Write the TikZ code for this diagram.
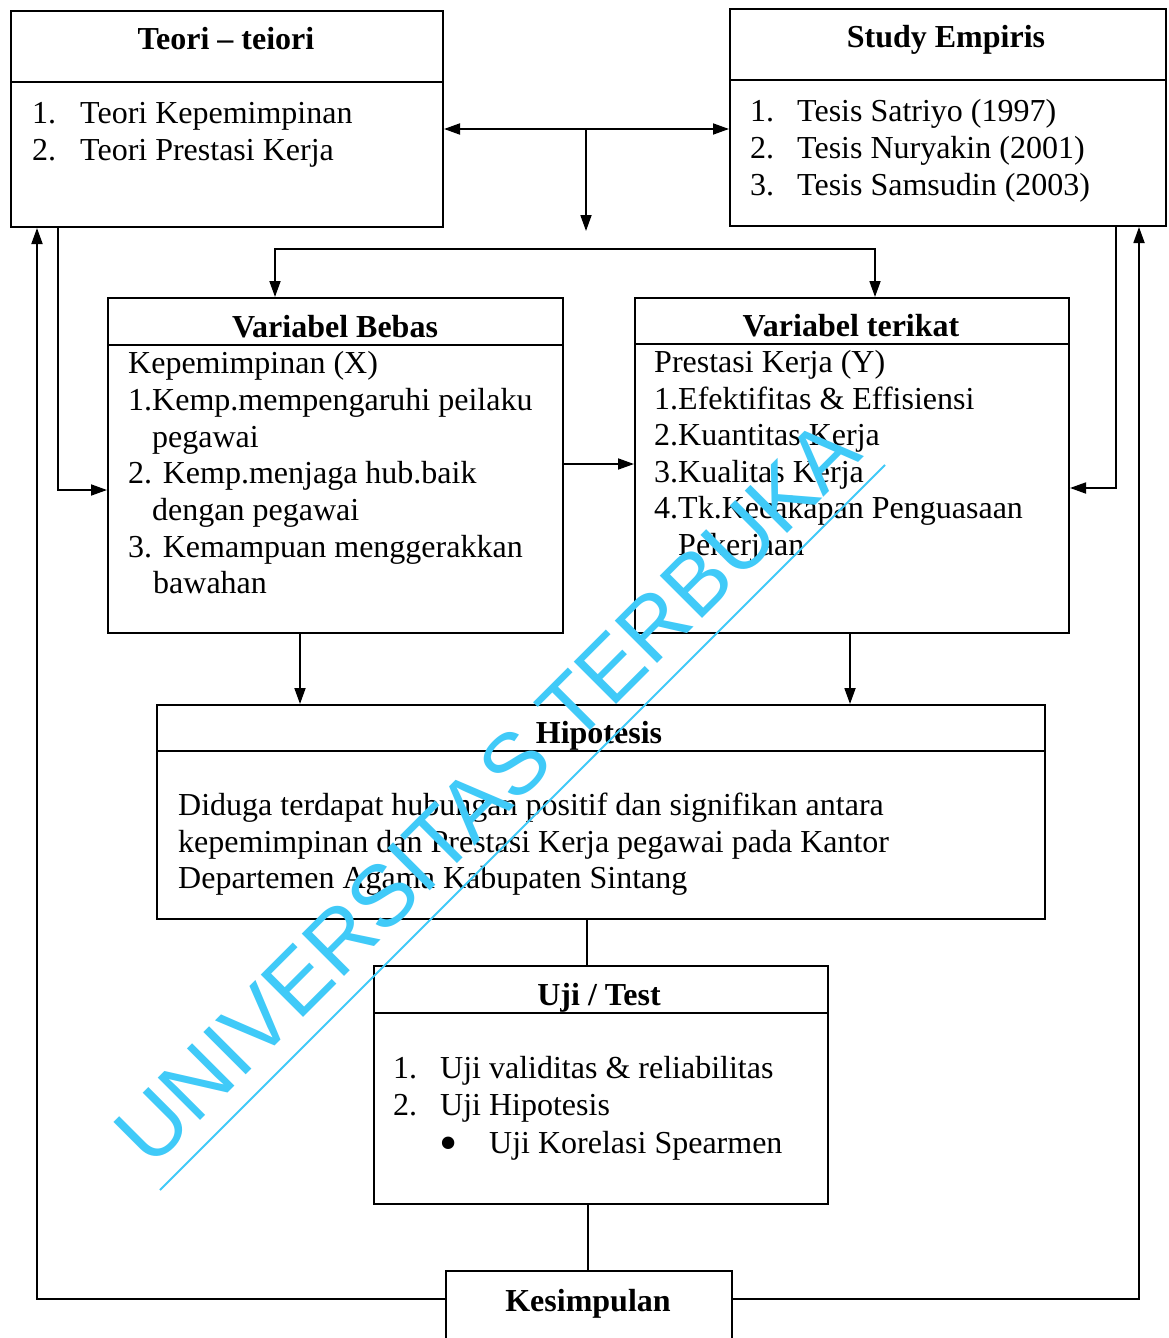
\documentclass[tikz,border=0pt]{standalone}
\usepackage{fontspec}
\setmainfont{Liberation Serif}
\newfontfamily\wmfont{Liberation Sans}
\usetikzlibrary{arrows.meta,calc}
\definecolor{wmcyan}{RGB}{64,202,248}
\begin{document}
\begin{tikzpicture}[x=1pt,y=-1pt,
  box/.style={draw,line width=2pt,rectangle,inner sep=0pt,anchor=north west},
  conn/.style={line width=1.8pt},
  arr/.style={conn,-{Triangle[length=16pt,width=11pt]}},
  arrb/.style={conn,{Triangle[length=16pt,width=11pt]}-{Triangle[length=16pt,width=11pt]}},
  txt/.style={anchor=base west,inner sep=0pt,font=\fontsize{32}{37}\selectfont},
  hdr/.style={anchor=base,inner sep=0pt,font=\fontsize{32}{37}\selectfont\bfseries},
  wm/.style={wmcyan,line width=2pt}]
\useasboundingbox (0,0) rectangle (1168,1338);
\fill[white] (0,0) rectangle (1168,1338);

% boxes
\node[box,minimum width=432pt,minimum height=216pt] (teori) at (10,10) {};
\node[box,minimum width=436pt,minimum height=217pt] (study) at (729,8) {};
\node[box,minimum width=455pt,minimum height=335pt] (bebas) at (107,297) {};
\node[box,minimum width=434pt,minimum height=335pt] (terikat) at (634,297) {};
\node[box,minimum width=888pt,minimum height=214pt] (hipo) at (156,704) {};
\node[box,minimum width=454pt,minimum height=238pt] (uji) at (373,965) {};
\node[box,minimum width=286pt,minimum height=100pt] (kes) at (445,1270) {};

% header dividers
\draw[line width=2pt] ($(teori.north west)+(0,72)$) -- ($(teori.north east)+(0,72)$);
\draw[line width=2pt] ($(study.north west)+(0,72)$) -- ($(study.north east)+(0,72)$);
\draw[line width=2pt] ($(bebas.north west)+(0,48)$) -- ($(bebas.north east)+(0,48)$);
\draw[line width=2pt] ($(terikat.north west)+(0,47)$) -- ($(terikat.north east)+(0,47)$);
\draw[line width=2pt] ($(hipo.north west)+(0,47)$) -- ($(hipo.north east)+(0,47)$);
\draw[line width=2pt] ($(uji.north west)+(0,48)$) -- ($(uji.north east)+(0,48)$);

% connectors
\coordinate (topmid) at (586,129);
\coordinate (topdown) at (586,231);
\draw[arrb] (teori.east |- topmid) -- (study.west |- topmid);
\draw[arr] (topmid) -- (topdown);
\draw[arrb] ($(bebas.north west)+(168,0)$) -- ++(0,-48) -| ($(terikat.north west)+(241,0)$);
\draw[arr] ($(teori.south west)+(48,0)$) |- ($(bebas.north west)+(0,193)$);
\draw[arr] ($(study.south west)+(387,0)$) |- ($(terikat.north east)+(0,191)$);
\draw[arr] ($(bebas.north east)+(0,167)$) -- ($(terikat.north west)+(0,167)$);
\draw[arr] ($(bebas.south west)+(193,0)$) -- ($(hipo.north west)+(144,0)$);
\draw[arr] ($(terikat.south west)+(216,0)$) -- ($(hipo.north west)+(694,0)$);
\draw[conn] ($(hipo.south west)+(431,0)$) -- ($(uji.north west)+(214,0)$);
\draw[conn] ($(uji.south west)+(215,0)$) -- ($(kes.north west)+(143,0)$);
\draw[arr] ($(kes.north west)+(0,29)$) -| ($(teori.south west)+(27,0)$);
\draw[arr] ($(kes.north east)+(0,29)$) -| ($(study.south west)+(410,0)$);

% Teori
\node[hdr] (teorih) at (226,50) {Teori -- teiori};
\node[txt] (t1n) at (32,123) {1.};
\node[txt] (t1) at (80,123) {Teori Kepemimpinan};
\node[txt] (t2n) at (32,160) {2.};
\node[txt] (t2) at (80,160) {Teori Prestasi Kerja};

% Study
\node[hdr] (studyh) at (946,48) {Study Empiris};
\node[txt] (s1n) at (750,121) {1.};
\node[txt] (s1) at (797,121) {Tesis Satriyo (1997)};
\node[txt] (s2n) at (750,158) {2.};
\node[txt] (s2) at (797,158) {Tesis Nuryakin (2001)};
\node[txt] (s3n) at (750,195) {3.};
\node[txt] (s3) at (797,195) {Tesis Samsudin (2003)};

% Variabel Bebas
\node[hdr] (bebash) at (335,337) {Variabel Bebas};
\node[txt] (b0) at (128,373) {Kepemimpinan (X)};
\node[txt] (b1) at (128,410) {1.Kemp.mempengaruhi peilaku};
\node[txt] (b1b) at (152,447) {pegawai};
\node[txt] (b2) at (128,483) {2. Kemp.menjaga hub.baik};
\node[txt] (b2b) at (152,520) {dengan pegawai};
\node[txt] (b3) at (128,557) {3. Kemampuan menggerakkan};
\node[txt] (b3b) at (153,593) {bawahan};

% Variabel terikat
\node[hdr] (terikath) at (851,336) {Variabel terikat};
\node[txt] (k0) at (654,372) {Prestasi Kerja (Y)};
\node[txt] (k1) at (654,409) {1.Efektifitas \& Effisiensi};
\node[txt] (k2) at (654,445) {2.Kuantitas Kerja};
\node[txt] (k3) at (654,482) {3.Kualitas Kerja};
\node[txt] (k4) at (654,518) {4.Tk.Kecakapan Penguasaan};
\node[txt] (k4b) at (678,555) {Pekerjaan};

% Hipotesis
\node[hdr] (hipoh) at (599,743) {Hipotesis};
\node[txt] (h1) at (178,815) {Diduga terdapat hubungan positif dan signifikan antara};
\node[txt] (h2) at (178,852) {kepemimpinan dan Prestasi Kerja pegawai pada Kantor};
\node[txt] (h3) at (178,888) {Departemen Agama Kabupaten Sintang};

% Uji
\node[hdr] (ujih) at (599,1005) {Uji / Test};
\node[txt] (u1n) at (393,1078) {1.};
\node[txt] (u1) at (440,1078) {Uji validitas \& reliabilitas};
\node[txt] (u2n) at (393,1115) {2.};
\node[txt] (u2) at (440,1115) {Uji Hipotesis};
\node[txt,font=\fontsize{52}{52}\selectfont] (u3n) at (439,1160) {\textbullet};
\node[txt] (u3) at (489,1153) {Uji Korelasi Spearmen};

% Kesimpulan
\node[hdr] (kesh) at (588,1311) {Kesimpulan};

% watermark
\coordinate (wmA) at (160,1190);
\coordinate (wmB) at (885,465);
\draw[wm] (wmA) -- (wmB);
\node[anchor=base,inner sep=0pt,rotate=45,text=wmcyan,font=\wmfont\fontsize{87}{87}\selectfont] (wmtext) at (508,813) {UNIVERSITAS TERBUKA};
\end{tikzpicture}
\end{document}
